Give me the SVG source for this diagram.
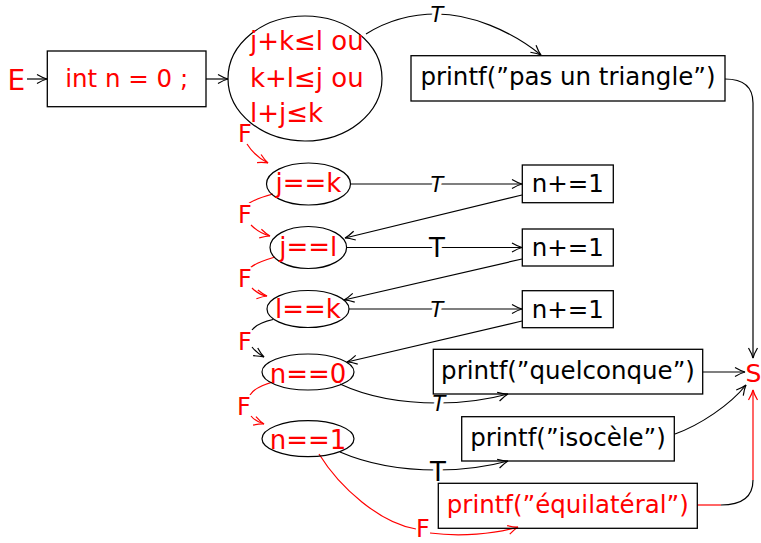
<svg xmlns="http://www.w3.org/2000/svg" width="761" height="543" viewBox="0 0 761 543">
<style>
  .box { fill: none; stroke: #000; stroke-width: 1.3; }
  .ell { fill: none; stroke: #000; stroke-width: 1.2; }
  .txt { font-family: "DejaVu Sans", "Liberation Sans", sans-serif; font-size: 24.5px; fill: #000; }
  .ctx { font-family: "DejaVu Sans", "Liberation Sans", sans-serif; font-size: 26px; fill: #ff0000; }
  .red { fill: #ff0000; }
  .big { font-family: "DejaVu Sans", "Liberation Sans", sans-serif; font-size: 26px; }
  .e { fill: none; stroke: #000; stroke-width: 1.2; }
  .er { fill: none; stroke: #ff0000; stroke-width: 1.2; }
  .ab { marker-end: url(#ab); }
  .ar { marker-end: url(#ar); }
  .lbl { font-family: "DejaVu Sans", "Liberation Sans", sans-serif; paint-order: stroke; stroke: #fff; stroke-width: 7px; stroke-linejoin: round; text-anchor: middle; }
  .ti { font-size: 21px; font-style: italic; fill: #000; }
  .tu { font-size: 26px; fill: #000; }
  .fl { font-size: 24px; fill: #ff0000; stroke-width: 4px; }
</style>
<defs>
  <marker id="ab" viewBox="-12 -6 14 12" refX="0" refY="0" markerWidth="14" markerHeight="12" markerUnits="userSpaceOnUse" orient="auto">
    <path d="M -10 -4.5 Q -4 -1 0 0 Q -4 1 -10 4.5" fill="none" stroke="#000" stroke-width="1.2"/>
  </marker>
  <marker id="ar" viewBox="-12 -6 14 12" refX="0" refY="0" markerWidth="14" markerHeight="12" markerUnits="userSpaceOnUse" orient="auto">
    <path d="M -10 -4.5 Q -4 -1 0 0 Q -4 1 -10 4.5" fill="none" stroke="#ff0000" stroke-width="1.2"/>
  </marker>
</defs>

<g id="connectors">
  <path class="e ab" d="M 27 79 L 47 79"/>
  <path class="e ab" d="M 206 79 L 228 79"/>
  <path class="e ab" d="M 366 34 C 385 22, 410 14, 437 14 C 470 14, 510 30, 541 55"/>
  <text class="lbl ti" x="437" y="22">T</text>
  <path class="e ab" d="M 725 79 C 742 79, 753 86, 753 103 L 753 358"/>
  <path class="e ab" d="M 351 184 L 522 184"/>
  <text class="lbl ti" x="437" y="191.5">T</text>
  <path class="e ab" d="M 522 195 L 345 238"/>
  <path class="e ab" d="M 347 247.5 L 522 247.5"/>
  <text class="lbl tu" x="437" y="257">T</text>
  <path class="e ab" d="M 522 259 L 344 300"/>
  <path class="e ab" d="M 349 309 L 522 309"/>
  <text class="lbl ti" x="437" y="316.5">T</text>
  <path class="e ab" d="M 522 321 L 347 362"/>
  <path class="e ab" d="M 340 384 C 370 398, 405 403, 438 403 C 465 403, 490 399, 508 394"/>
  <text class="lbl ti" x="439" y="410.5">T</text>
  <path class="e ab" d="M 340 452 C 370 465, 405 470, 437 470 C 465 470, 490 466, 508 461"/>
  <text class="lbl tu" x="438" y="481">T</text>
  <path class="e ab" d="M 703 372 L 745 372"/>
  <path class="e ab" d="M 675 434 C 700 425, 730 405, 746 385"/>
  <path class="er" d="M 697 505 L 721 505"/>
  <path class="e" d="M 721 505 C 741 505, 753 497, 753 480"/>
  <path class="er ar" d="M 753 480 L 753 390"/>

  <text class="lbl fl" x="245" y="141.5">F</text>
  <path class="er ar" d="M 247 144 C 252 152, 258 158, 268 163"/>

  <path class="er" d="M 273 194 C 262 197, 250 201, 246 206"/>
  <text class="lbl fl" x="245" y="223.3">F</text>
  <path class="er ar" d="M 251 225 C 256 230, 262 234, 270 236"/>

  <path class="er" d="M 275 257 C 265 260, 255 263, 250 268"/>
  <text class="lbl fl" x="245" y="286.5">F</text>
  <path class="er ar" d="M 252 288 C 256 292, 261 295, 267 296"/>

  <path class="e" d="M 273 319.5 C 262 322, 255 326, 252 330"/>
  <text class="lbl fl" x="245" y="350">F</text>
  <path class="e ab" d="M 252 347 C 255 351, 259 354, 264 357"/>

  <path class="er" d="M 273 382 C 262 385, 253 390, 250 395"/>
  <text class="lbl fl" x="244" y="415">F</text>
  <path class="er ar" d="M 251 416 C 254 420, 258 422, 264 424"/>

  <path class="er" d="M 319 454 C 340 488, 380 523, 416 529"/>
  <text class="lbl fl" x="423" y="537">F</text>
  <path class="er ar" d="M 430 533 C 460 537, 495 534, 518 527"/>
</g>

<g id="nE">
  <text class="big red" x="7.5" y="89.5" style="font-size:28px">E</text>
</g>
<g id="nInit">
  <rect class="box" x="47.3" y="51" width="158.7" height="55.7"/>
  <text class="txt red" x="126.7" y="86.5" text-anchor="middle">int n = 0 ;</text>
</g>
<g id="nCond">
  <ellipse class="ell" cx="305" cy="78.5" rx="77" ry="62.5"/>
  <text class="ctx" x="250" y="50">j+k≤l ou</text>
  <text class="ctx" x="250" y="86.5">k+l≤j ou</text>
  <text class="ctx" x="250" y="122">l+j≤k</text>
</g>
<g id="nPas">
  <rect class="box" x="411" y="55.7" width="314" height="45.3"/>
  <text class="txt" x="568" y="85" text-anchor="middle">printf(”pas un triangle”)</text>
</g>
<g id="nJK">
  <ellipse class="ell" cx="308.5" cy="184" rx="42" ry="21"/>
  <text class="ctx" x="308.5" y="192" text-anchor="middle">j==k</text>
</g>
<g id="nInc1">
  <rect class="box" x="522.3" y="165" width="91" height="37.7"/>
  <text class="txt" x="567.8" y="192" text-anchor="middle">n+=1</text>
</g>
<g id="nJL">
  <ellipse class="ell" cx="308.3" cy="247.5" rx="38.3" ry="21"/>
  <text class="ctx" x="308.3" y="255.5" text-anchor="middle">j==l</text>
</g>
<g id="nInc2">
  <rect class="box" x="522.3" y="229" width="91" height="37"/>
  <text class="txt" x="567.8" y="256" text-anchor="middle">n+=1</text>
</g>
<g id="nLK">
  <ellipse class="ell" cx="308" cy="309" rx="41" ry="18.5"/>
  <text class="ctx" x="308" y="318" text-anchor="middle">l==k</text>
</g>
<g id="nInc3">
  <rect class="box" x="522.3" y="290.7" width="91" height="37"/>
  <text class="txt" x="567.8" y="317.5" text-anchor="middle">n+=1</text>
</g>
<g id="nN0">
  <ellipse class="ell" cx="308" cy="372" rx="46" ry="18"/>
  <text class="ctx" x="308" y="382.5" text-anchor="middle">n==0</text>
</g>
<g id="nQuel">
  <rect class="box" x="433.3" y="349.3" width="269.4" height="44.7"/>
  <text class="txt" x="568" y="379" text-anchor="middle">printf(”quelconque”)</text>
</g>
<g id="nN1">
  <ellipse class="ell" cx="308" cy="438.7" rx="46" ry="18"/>
  <text class="ctx" x="308" y="448.5" text-anchor="middle">n==1</text>
</g>
<g id="nIso">
  <rect class="box" x="461.7" y="416.7" width="212.6" height="44.3"/>
  <text class="txt" x="568" y="446" text-anchor="middle">printf(”isocèle”)</text>
</g>
<g id="nEqui">
  <rect class="box" x="438.3" y="483.3" width="259" height="45"/>
  <text class="txt red" x="567.8" y="513" text-anchor="middle">printf(”équilatéral”)</text>
</g>
<g id="nS">
  <text class="big red" x="753.5" y="381.7" text-anchor="middle" style="font-size:25px">S</text>
</g>
</svg>
